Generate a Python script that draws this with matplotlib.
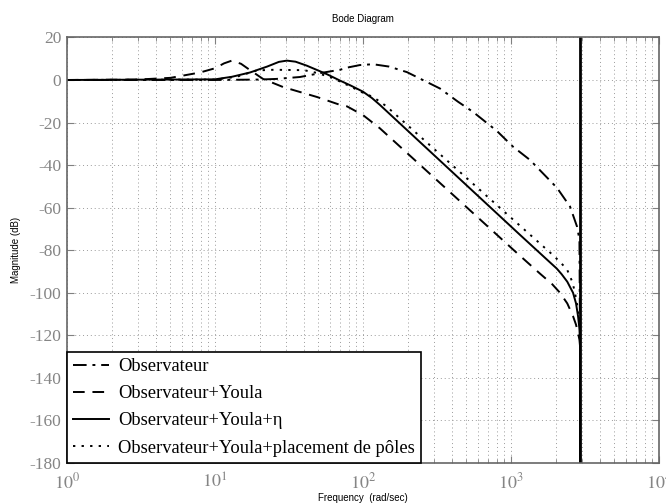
import matplotlib
matplotlib.use('Agg')
import matplotlib.pyplot as plt
from matplotlib.ticker import FixedLocator, FixedFormatter, LogLocator, NullFormatter

plt.rcParams['axes.unicode_minus'] = False
plt.rcParams['mathtext.fontset'] = 'stix'

# Nyquist frequency (rad/sec)
w_nyq = 2930.

# Observateur
w_obs = [1, 10, 20, 26, 37.5, 54, 70, 78, 95, 117, 150, 198, 331, 438, 554, 804,
         1030, 1344, 2046, 2506, 2793, 2900, 2925, 2929]
m_obs = [0, 0, 0.2, 0.5, 1.4, 3.5, 4.8, 5.8, 7.0, 7.4, 6.3, 3.7, -4, -10.2, -15, -24,
         -31.3, -37.6, -50.7, -59.5, -68.9, -75, -120, -250]

# Observateur+Youla
w_you = [1, 3, 5, 7.9, 10, 11.5, 13, 15, 17.2, 21.1, 28.8, 48.9, 70, 78, 100,
         130, 1100, 1570, 1900, 2143, 2400, 2625, 2750, 2838, 2900, 2926, 2929]
m_you = [0, 0.2, 1, 3.5, 5.5, 7.8, 9.1, 7.6, 4.7, 0.5, -3.3, -8, -11.7, -12.4, -16.5,
         -22.7, -81.4, -91, -96, -100, -105, -111, -115, -119, -122, -125, -250]

# Observateur+Youla+eta
w_eta = [1, 10, 13, 17.2, 22.5, 27, 30.6, 35, 41.8, 57.1, 70, 82, 100, 115,
         130, 1151, 1800, 2036, 2200, 2400, 2625, 2750, 2838, 2900, 2926, 2929]
m_eta = [0, 0.3, 1.5, 3.5, 6.3, 8.5, 9.1, 8.6, 6.7, 2.7, -0.3, -2.5, -5.5, -8.5,
         -11.7, -72.8, -85.2, -88.6, -91.3, -94.8, -100, -105, -111, -117, -123, -250]

# Observateur+Youla+placement de poles
w_pp = [1, 10, 14, 19.2, 25, 40, 49, 62, 82, 100, 117, 143, 1100, 1900, 2143, 2390,
        2600, 2706, 2838, 2900, 2926, 2929]
m_pp = [0, 0.2, 1.5, 4.5, 4.8, 4.6, 3.3, 1, -3, -6, -8, -12.2, -67.3, -82, -85.5, -89,
        -95, -100, -108, -113, -118, -250]

yticks = [20, 0, -20, -40, -60, -80, -100, -120, -140, -160, -180]
xticks = [1, 10, 100, 1000, 10000]
xticklabels = ['$10^0$', '$10^1$', '$10^2$', '$10^3$', '$10^4$']

fig = plt.figure(figsize=(6.66, 5.03), dpi=100)
ax = fig.add_axes([0.1006, 0.0795, 0.8889, 0.8461])

ax.semilogx(w_obs, m_obs, color='k', lw=1.4, dashes=[7, 3, 1.5, 3], label='Observateur')
ax.semilogx(w_you, m_you, color='k', lw=1.4, dashes=[6, 4], label='Observateur+Youla')
ax.semilogx(w_eta, m_eta, color='k', lw=1.4, label='Observateur+Youla+\u03b7')
ax.semilogx(w_pp, m_pp, color='k', lw=1.4, dashes=[1.2, 3.2],
            label='Observateur+Youla+placement de p\u00f4les')
ax.axvline(w_nyq, color='k', lw=2)

ax.set_xlim(1, 10000)
ax.set_ylim(-180, 20)
ax.xaxis.set_major_locator(FixedLocator(xticks))
ax.xaxis.set_major_formatter(FixedFormatter(xticklabels))
ax.xaxis.set_minor_locator(LogLocator(base=10, subs=range(2, 10)))
ax.xaxis.set_minor_formatter(NullFormatter())
ax.set_yticks(yticks)
ax.set_yticklabels([str(v) for v in yticks])

ax.grid(True, which='major', color='#9a9a9a', ls=(0, (1, 3)), lw=0.7)
ax.grid(True, which='minor', axis='x', color='#9a9a9a', ls=(0, (1, 3)), lw=0.7)
ax.tick_params(which='both', direction='in', top=True, right=True, colors='#808080')
ax.tick_params(which='major', length=5)
ax.tick_params(axis='x', which='major', pad=7)
ax.tick_params(axis='y', which='major', pad=4)
ax.tick_params(which='minor', length=3)
for lab in ax.get_yticklabels():
    lab.set_fontfamily('Liberation Serif')
    lab.set_fontsize(12.5)
    lab.set_color('#858585')
for lab in ax.get_xticklabels():
    lab.set_fontsize(13)
    lab.set_color('#858585')
for s in ax.spines.values():
    s.set_color('#666666')
    s.set_linewidth(1.2)

ax.set_title('Bode Diagram', fontsize=7, fontfamily='Liberation Sans', pad=11)
ax.set_xlabel('Frequency  (rad/sec)', fontsize=7, fontfamily='Liberation Sans', labelpad=0)
ax.set_ylabel('Magnitude (dB)', fontsize=7, fontfamily='Liberation Sans', labelpad=6)

leg = ax.legend(loc='lower left', bbox_to_anchor=(0, 0), borderaxespad=0,
                prop={'family': 'Liberation Serif', 'size': 13.3}, fancybox=False,
                framealpha=1, edgecolor='k', handlelength=1.95, handletextpad=0.45,
                labelspacing=0.55, borderpad=0.35)
leg.get_frame().set_linewidth(1.2)

fig.savefig('out.png', dpi=100)
